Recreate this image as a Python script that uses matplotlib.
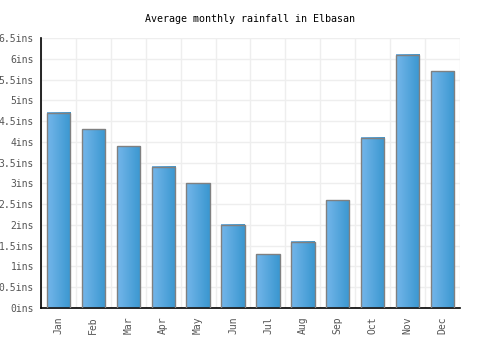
import matplotlib
matplotlib.use("Agg")
import matplotlib.pyplot as plt
import numpy as np
from matplotlib.colors import LinearSegmentedColormap

months = ["Jan", "Feb", "Mar", "Apr", "May", "Jun", "Jul", "Aug", "Sep", "Oct", "Nov", "Dec"]
rainfall = [4.7, 4.3, 3.9, 3.4, 3.0, 2.0, 1.3, 1.6, 2.6, 4.1, 6.1, 5.7]
yticks = [0, 0.5, 1, 1.5, 2, 2.5, 3, 3.5, 4, 4.5, 5, 5.5, 6, 6.5]
ylabels = ["0ins", "0.5ins", "1ins", "1.5ins", "2ins", "2.5ins", "3ins", "3.5ins",
           "4ins", "4.5ins", "5ins", "5.5ins", "6ins", "6.5ins"]

plt.rcParams['font.family'] = ['DejaVu Sans Mono']

fig = plt.figure(figsize=(5, 3.5), dpi=100)
ax = fig.add_axes([0.082, 0.12, 0.838, 0.771])

x = np.arange(len(months))
bars = ax.bar(x, rainfall, width=0.67, color='none', edgecolor='#808080', linewidth=1, zorder=3)

cmap = LinearSegmentedColormap.from_list("g", ["#74b6ea", "#3a97d0"])
grad = np.linspace(0, 1, 64).reshape(1, -1)
for b in bars:
    x0, y0 = b.get_x(), b.get_y()
    w, h = b.get_width(), b.get_height()
    ax.imshow(grad, extent=[x0, x0 + w, y0, y0 + h], aspect='auto', cmap=cmap, zorder=2)

ax.set_xlim(-0.5, len(months) - 0.5)
ax.set_ylim(0, 6.5)
ax.set_yticks(yticks)
ax.set_yticklabels(ylabels)
ax.set_xticks(x)
ax.set_xticklabels(months, rotation=90)
ax.set_xticks(np.arange(-0.5, len(months), 1), minor=True)
ax.tick_params(axis='both', which='both', length=0, labelsize=7, labelcolor='#555555')
ax.tick_params(axis='x', pad=6)
ax.tick_params(axis='y', pad=5)

ax.grid(True, axis='y', which='major', color='#eeeeee', linewidth=1, zorder=0)
ax.grid(True, axis='x', which='minor', color='#eeeeee', linewidth=1, zorder=0)
ax.set_axisbelow(True)

for s in ['top', 'right']:
    ax.spines[s].set_visible(False)
ax.spines['left'].set_color('black')
ax.spines['bottom'].set_color('black')
ax.spines['left'].set_linewidth(1.2)
ax.spines['bottom'].set_linewidth(1.2)

fig.text(0.5, 0.945, "Average monthly rainfall in Elbasan", ha='center', va='center',
         fontsize=7.2, color='black')

fig.savefig("out.png", dpi=100)
